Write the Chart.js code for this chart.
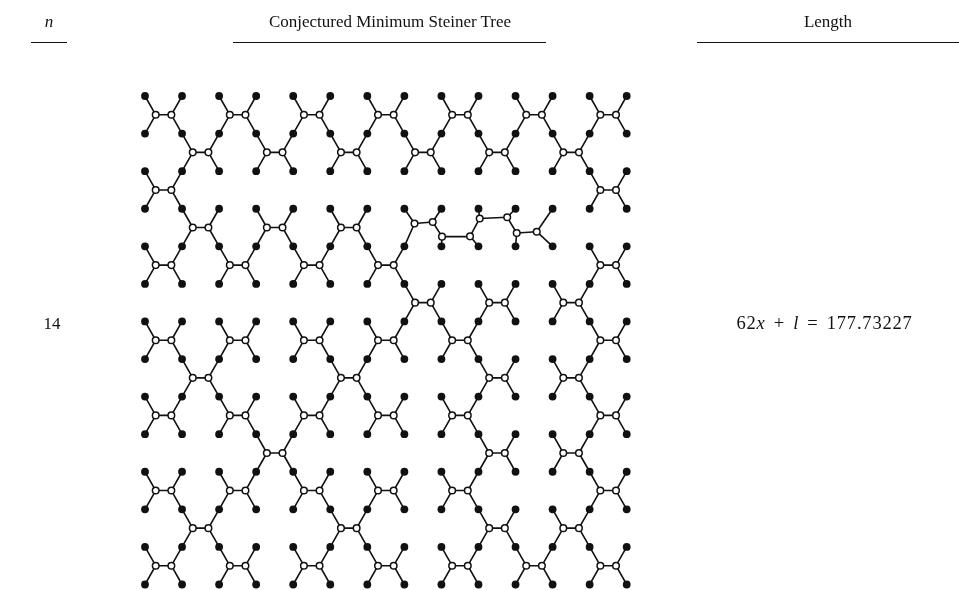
<!DOCTYPE html>
<html><head><meta charset="utf-8">
<script src="https://cdn.jsdelivr.net/npm/chart.js@4/dist/chart.umd.min.js"></script>
<style>
html,body{margin:0;padding:0;background:#fff;}
#wrap{position:relative;width:959px;height:590px;overflow:hidden;background:#fff;}
canvas{position:absolute;left:0;top:0;}
.t{position:absolute;font-family:"Liberation Serif","DejaVu Serif",serif;color:#111;white-space:nowrap;transform:translate(-50%,-50%);line-height:1;}
.rule{position:absolute;height:0;border-top:1.6px solid #111;}
.op{margin:0 9px;}
.num{letter-spacing:0.8px;}
</style></head><body>
<div id="wrap">
<canvas id="c" width="959" height="590"></canvas>
<div class="t" id="hN" style="left:49px;top:21px;font-size:17px;font-style:italic;"></div>
<div class="t" id="hTree" style="left:390px;top:21px;font-size:17px;"></div>
<div class="t" id="hLen" style="left:828px;top:21px;font-size:17px;"></div>
<div class="rule" style="left:31px;width:36px;top:42px;"></div>
<div class="rule" style="left:233px;width:313px;top:42px;"></div>
<div class="rule" style="left:697px;width:262px;top:42px;"></div>
<div class="t" id="rowN" style="left:52px;top:323px;font-size:17px;"></div>
<div class="t" id="rowLen" style="left:824.5px;top:323px;font-size:18.5px;"></div>
</div>
<script>
// ---- data ----
const headers = ['n', 'Conjectured Minimum Steiner Tree', 'Length'];
const rowLabel = '14';
const lengthParts = ['62', 'x', '+', 'l', '=', '177.73227'];
const gridCols = [0,1,2,3,4,5,6,7,8,9,10,11,12,13];
const gridRows = [0,1,2,3,4,5,6,7,8,9,10,11,12,13];
// full "X" components: [column, row] of the upper-left terminal of each 2x2 block
const xPieceBlocks = [
  [0,0],[2,0],[4,0],[6,0],[8,0],[10,0],[12,0],
  [1,1],[3,1],[5,1],[7,1],[9,1],[11,1],
  [0,2],[12,2],
  [1,3],[3,3],[5,3],
  [0,4],[2,4],[4,4],[6,4],[12,4],
  [7,5],[9,5],[11,5],
  [0,6],[2,6],[4,6],[6,6],[8,6],[12,6],
  [1,7],[5,7],[9,7],[11,7],
  [0,8],[2,8],[4,8],[6,8],[8,8],[12,8],
  [3,9],[9,9],[11,9],
  [0,10],[2,10],[4,10],[6,10],[8,10],[12,10],
  [1,11],[5,11],[9,11],[11,11],
  [0,12],[2,12],[4,12],[6,12],[8,12],[10,12],[12,12]
];
// the special "l" component (8 Steiner points)
const chainSteinerX = [7.274, 7.765, 8.016, 8.772, 9.033, 9.775, 10.032, 10.572];
const chainSteinerY = [3.393, 3.353, 3.743, 3.735, 3.259, 3.228, 3.645, 3.611];
// [steiner index, terminal column, terminal row]
const chainTerminalLinks = [[0,7,3],[0,7,4],[1,8,3],[2,8,4],[3,9,4],[4,9,3],[5,10,3],[6,10,4],[7,11,3],[7,11,4]];

// ---- text ----
document.getElementById('hN').textContent = headers[0];
document.getElementById('hTree').textContent = headers[1];
document.getElementById('hLen').textContent = headers[2];
document.getElementById('rowN').textContent = rowLabel;
(function(){
  const el = document.getElementById('rowLen');
  const mk = (tag, txt, cls) => { const s = document.createElement(tag); s.textContent = txt; if (cls) s.className = cls; el.appendChild(s); };
  mk('span', lengthParts[0], 'num'); mk('i', lengthParts[1]); mk('span', lengthParts[2], 'op');
  mk('i', lengthParts[3]); mk('span', lengthParts[4], 'op'); mk('span', lengthParts[5], 'num');
})();

// ---- build datasets ----
const terminals = [];
gridRows.forEach(r => gridCols.forEach(c => terminals.push({x:c, y:r})));

const h = 1/(2*Math.sqrt(3));
const steiner = [];
const edges = [];
const gap = {x:null, y:null};
function seg(a,b){ edges.push(a, b, gap); }
xPieceBlocks.forEach(([c,r]) => {
  const L = {x:c+h, y:r+0.5}, R = {x:c+1-h, y:r+0.5};
  steiner.push(L, R);
  seg({x:c,y:r}, L); seg({x:c,y:r+1}, L); seg(L, R);
  seg(R, {x:c+1,y:r}); seg(R, {x:c+1,y:r+1});
});
const chainPts = chainSteinerX.map((x,i) => ({x, y:chainSteinerY[i]}));
chainPts.forEach(p => steiner.push(p));
for (let i=0;i<chainPts.length-1;i++) seg(chainPts[i], chainPts[i+1]);
chainTerminalLinks.forEach(([s,c,r]) => seg(chainPts[s], {x:c,y:r}));

new Chart(document.getElementById('c'), {
  type: 'scatter',
  data: { datasets: [
    { label:'Steiner points', data: steiner, order:1, pointRadius:3.3, pointBorderWidth:1.5,
      pointBackgroundColor:'#fff', pointBorderColor:'#111', showLine:false, clip:false },
    { label:'Terminals', data: terminals, order:2, pointRadius:3.9, pointBorderWidth:0,
      pointBackgroundColor:'#111', pointBorderColor:'#111', showLine:false, clip:false },
    { label:'Edges', data: edges, order:3, showLine:true, spanGaps:false, pointRadius:0,
      borderColor:'#111', borderWidth:1.6, tension:0, clip:false }
  ]},
  options: {
    responsive:false, animation:false, events:[],
    layout:{ padding:{ left:145, right:332.3, top:96, bottom:4.3 } },
    scales:{
      x:{ type:'linear', min:0, max:13, display:false },
      y:{ type:'linear', min:0, max:13, reverse:true, display:false }
    },
    plugins:{ legend:{display:false}, tooltip:{enabled:false}, title:{display:false} }
  }
});
</script>
</body></html>
